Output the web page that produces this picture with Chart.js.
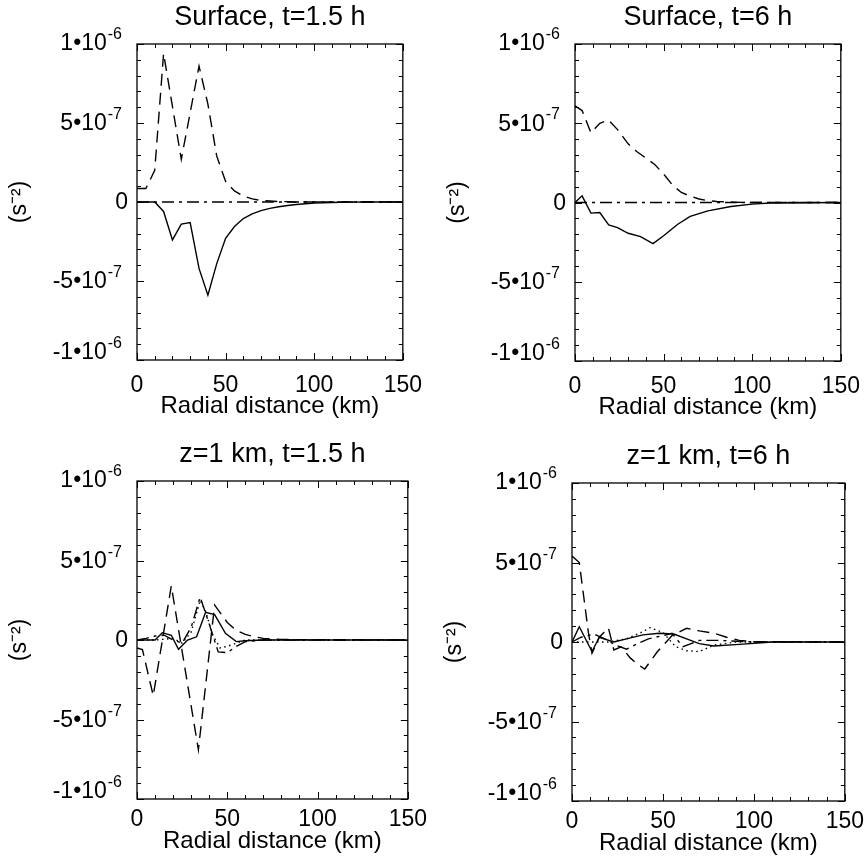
<!DOCTYPE html>
<html><head><meta charset="utf-8">
<script src="https://cdn.jsdelivr.net/npm/chart.js@4.4.1/dist/chart.umd.min.js"></script>
<style>
html,body{margin:0;padding:0;background:#fff;width:868px;height:860px;overflow:hidden;position:relative;}
canvas{position:absolute;}
</style></head><body>
<canvas id="c1"></canvas><canvas id="c2"></canvas><canvas id="c3"></canvas><canvas id="c4"></canvas>
<script>
// ---------- DATA (values in units of 1e-7 s^-2, x in km) ----------
const UNIT = 1e-7;
const xTickValues = [0, 50, 100, 150];
const yTickValues = [-1e-6, -5e-7, 0, 5e-7, 1e-6];
const yTickMantissa = ['-1•10', '-5•10', '0', '5•10', '1•10'];
const yTickExponent = ['-6', '-7', '', '-7', '-6'];
const panelTitles = ['Surface, t=1.5 h', 'Surface, t=6 h', 'z=1 km, t=1.5 h', 'z=1 km, t=6 h'];
const xAxisTitle = 'Radial distance (km)';
const yAxisTitle = '(s⁻²)';

// Panel 1: Surface, t=1.5 h
const p1SolidX = [0,5,10,15,20,25,30,35,40,45,50,55,60,65,70,75,80,85,90,95,100,110,120,130,150];
const p1SolidY = [0,0,0,-0.6,-2.4,-1.4,-1.3,-4.2,-5.9,-3.9,-2.3,-1.55,-1.05,-0.75,-0.55,-0.4,-0.3,-0.22,-0.16,-0.11,-0.07,-0.03,-0.01,0,0];
const p1DashX = [0,5,10,15,25,35,40,45,50,55,60,65,70,75,80,90,100,150];
const p1DashY = [0.85,0.85,2.0,9.4,2.7,8.6,6.2,2.9,1.3,0.7,0.37,0.2,0.1,0.06,0.03,0,0,0];
const p1DashDotX = [0,50,100,150];
const p1DashDotY = [0,0,0,0];

// Panel 2: Surface, t=6 h
const p2DashX = [0,4,9,14,19,24,30,35,40,45,50,55,60,65,70,75,80,90,100,150];
const p2DashY = [6.1,5.8,4.4,5.0,5.2,4.6,3.7,3.2,2.8,2.4,1.8,1.1,0.63,0.4,0.22,0.12,0.06,0.02,0,0];
const p2SolidX = [0,4,9,14,19,24,30,37,44,50,58,65,75,88,100,110,150];
const p2SolidY = [0,0.42,-0.67,-0.63,-1.41,-1.58,-1.94,-2.15,-2.59,-2.1,-1.37,-0.88,-0.53,-0.25,-0.1,-0.03,0];
const p2DashDotX = [0,50,100,150];
const p2DashDotY = [0,0,0,0];

// Panel 3: z=1 km, t=1.5 h
const p3SolidX = [0,10,14,19,23,28,33,38,43,49,55,60,70,150];
const p3SolidY = [0,0,0.46,0.3,-0.58,0,0.2,1.74,1.6,0.42,-0.1,-0.05,0,0];
const p3DashX = [0,3,9,19,34,43,50,55,60,65,70,80,150];
const p3DashY = [-0.5,-0.6,-3.5,3.4,-6.9,2.2,1.1,0.6,0.35,0.2,0.1,0.03,0];
const p3DashDotX = [0,5,10,15,20,25,30,35,40,45,50,55,60,70,150];
const p3DashDotY = [0,0.1,0.25,0.3,0,-0.2,0.8,2.7,1.0,-0.75,-0.8,-0.4,-0.1,0,0];
const p3DotX = [0,10,20,25,30,35,38,42,46,50,55,60,150];
const p3DotY = [0,0,0.1,-0.2,0.5,2.5,1.8,0.3,-0.5,-0.4,-0.2,0,0];

// Panel 4: z=1 km, t=6 h
const p4DashX = [0,4,9,11,15,20,23,27,32,36,40,47,55,63,70,78,85,92,100,150];
const p4DashY = [5.4,5.0,0.6,-0.7,0.3,0.9,-0.5,-0.3,-1.0,-1.4,-1.7,-0.6,0.4,0.86,0.7,0.55,0.3,0.1,0.02,0];
const p4SolidX = [0,4,11,15,23,30,39,48,56,63,70,78,92,110,150];
const p4SolidY = [0,0.96,-0.6,0.3,0,0.2,0.45,0.55,0.5,0.2,-0.1,-0.25,-0.15,0,0];
const p4DotX = [0,10,20,30,38,43,50,57,63,70,78,90,150];
const p4DotY = [0,0,0,0.2,0.6,0.9,0.6,-0.3,-0.55,-0.6,-0.2,0,0];
const p4DashDotX = [0,5,12,18,24,30,36,42,50,55,61,70,80,100,150];
const p4DashDotY = [0,0.3,0.5,0.2,-0.2,-0.45,-0.1,0.2,0.4,0.55,-0.3,0.1,0.1,0,0];

// ---------- STYLE / LAYOUT ----------
const FONT = '"Liberation Sans", Arial, Helvetica, sans-serif';
const DASH = { solid: [], dashed: [12, 7], dashDot: [12, 5, 3, 5], dotted: [1.5, 3.5] };
const LEFT_W = 137, RIGHT_PAD = 26, TOP_H = 44, BOTTOM_H = 62;
// plot-area rectangles on the page [left, top, right, bottom]
const plotRects = [[137,44,408,360],[575,44,846,361],[137,481,408,799],[572,483,845,801]];
// x tick-label padding and x-title bottom padding per panel
const xLabelPad = [12, 12, 7, 7];
const xTitlePad = [1, 1, 5, 5];
// vertical nudge of y tick labels (same order as yTickValues)
const yLabelNudge = [-8, 0, 0, 0, -1];

function series(xs, ys, style) {
  return {
    data: xs.map((x, i) => ({ x: x, y: ys[i] * UNIT })),
    borderColor: '#000', borderWidth: 1.4, borderDash: DASH[style],
    pointRadius: 0, fill: false, tension: 0
  };
}

const panelData = [
  [series(p1DashDotX, p1DashDotY, 'dashDot'), series(p1DashX, p1DashY, 'dashed'), series(p1SolidX, p1SolidY, 'solid')],
  [series(p2DashDotX, p2DashDotY, 'dashDot'), series(p2DashX, p2DashY, 'dashed'), series(p2SolidX, p2SolidY, 'solid')],
  [series(p3DotX, p3DotY, 'dotted'), series(p3DashDotX, p3DashDotY, 'dashDot'), series(p3DashX, p3DashY, 'dashed'), series(p3SolidX, p3SolidY, 'solid')],
  [series(p4DotX, p4DotY, 'dotted'), series(p4DashDotX, p4DashDotY, 'dashDot'), series(p4DashX, p4DashY, 'dashed'), series(p4SolidX, p4SolidY, 'solid')]
];

// frame, inward ticks on all four sides, and y tick labels with raised exponents
const framePlugin = {
  id: 'frame',
  afterDatasetsDraw(chart) {
    const { ctx, chartArea: a, scales: { x, y } } = chart;
    ctx.save();
    ctx.strokeStyle = '#000';
    ctx.lineWidth = 1.3;
    ctx.setLineDash([]);
    ctx.strokeRect(a.left, a.top, a.right - a.left, a.bottom - a.top);
    ctx.lineWidth = 1;
    ctx.beginPath();
    for (let v = 0; v <= 150; v += 10) {
      const px = Math.round(x.getPixelForValue(v)) + 0.5;
      const len = (v % 50 === 0) ? 7 : 4;
      ctx.moveTo(px, a.bottom); ctx.lineTo(px, a.bottom - len);
      ctx.moveTo(px, a.top); ctx.lineTo(px, a.top + len);
    }
    for (let k = -10; k <= 10; k++) {
      const py = Math.round(y.getPixelForValue(k * UNIT)) + 0.5;
      const len = (k % 5 === 0) ? 7 : 4;
      ctx.moveTo(a.left, py); ctx.lineTo(a.left + len, py);
      ctx.moveTo(a.right, py); ctx.lineTo(a.right - len, py);
    }
    ctx.stroke();
    // y tick labels
    ctx.fillStyle = '#000';
    ctx.textAlign = 'right';
    yTickValues.forEach((v, i) => {
      const py = y.getPixelForValue(v) + yLabelNudge[i];
      let xr = a.left - 9;
      if (yTickExponent[i]) {
        xr = a.left - 15;
        ctx.font = '16px ' + FONT;
        ctx.textBaseline = 'alphabetic';
        ctx.fillText(yTickExponent[i], xr, py - 4);
        xr -= ctx.measureText(yTickExponent[i]).width + 1;
      }
      ctx.font = '23px ' + FONT;
      ctx.textBaseline = 'middle';
      ctx.fillText(yTickMantissa[i], xr, py + 1);
    });
    ctx.restore();
  }
};

function makeChart(idx) {
  const [pl, pt, pr, pb] = plotRects[idx];
  const cv = document.getElementById('c' + (idx + 1));
  const w = LEFT_W + (pr - pl) + RIGHT_PAD;
  const h = TOP_H + (pb - pt) + BOTTOM_H;
  cv.width = w; cv.height = h;
  cv.style.left = (pl - LEFT_W) + 'px';
  cv.style.top = (pt - TOP_H) + 'px';
  const tickFont = { family: FONT, size: 23 };
  new Chart(cv, {
    type: 'line',
    data: { datasets: panelData[idx] },
    options: {
      responsive: false, animation: false, devicePixelRatio: 1,
      layout: { padding: { left: 0, right: RIGHT_PAD, top: 0, bottom: 0 } },
      plugins: { legend: { display: false }, tooltip: { enabled: false }, title: { display: false } },
      scales: {
        x: {
          type: 'linear', position: 'bottom', min: 0, max: 150,
          afterBuildTicks: s => { s.ticks = xTickValues.map(v => ({ value: v })); },
          ticks: { font: tickFont, color: '#000', padding: xLabelPad[idx], maxRotation: 0, autoSkip: false },
          grid: { display: false, drawTicks: false }, border: { display: false },
          title: { display: true, text: xAxisTitle, font: { family: FONT, size: 24 }, color: '#000', padding: { top: 0, bottom: xTitlePad[idx] } },
          afterFit: s => { s.height = BOTTOM_H; }
        },
        xTop: {
          type: 'linear', position: 'top', min: 0, max: 150,
          ticks: { display: false }, grid: { display: false, drawTicks: false }, border: { display: false },
          title: { display: true, text: panelTitles[idx], font: { family: FONT, size: 27 }, color: '#000', padding: { top: 1, bottom: 0 } },
          afterFit: s => { s.height = TOP_H; }
        },
        y: {
          type: 'linear', min: -1e-6, max: 1e-6,
          afterBuildTicks: s => { s.ticks = yTickValues.map(v => ({ value: v })); },
          ticks: { display: false },
          grid: { display: false, drawTicks: false }, border: { display: false },
          title: { display: true, text: yAxisTitle, font: { family: FONT, size: 23 }, color: '#000', padding: { top: 6, bottom: 0 } },
          afterFit: s => { s.width = LEFT_W; }
        }
      }
    },
    plugins: [framePlugin]
  });
}
for (let i = 0; i < 4; i++) makeChart(i);
</script>
</body></html>
